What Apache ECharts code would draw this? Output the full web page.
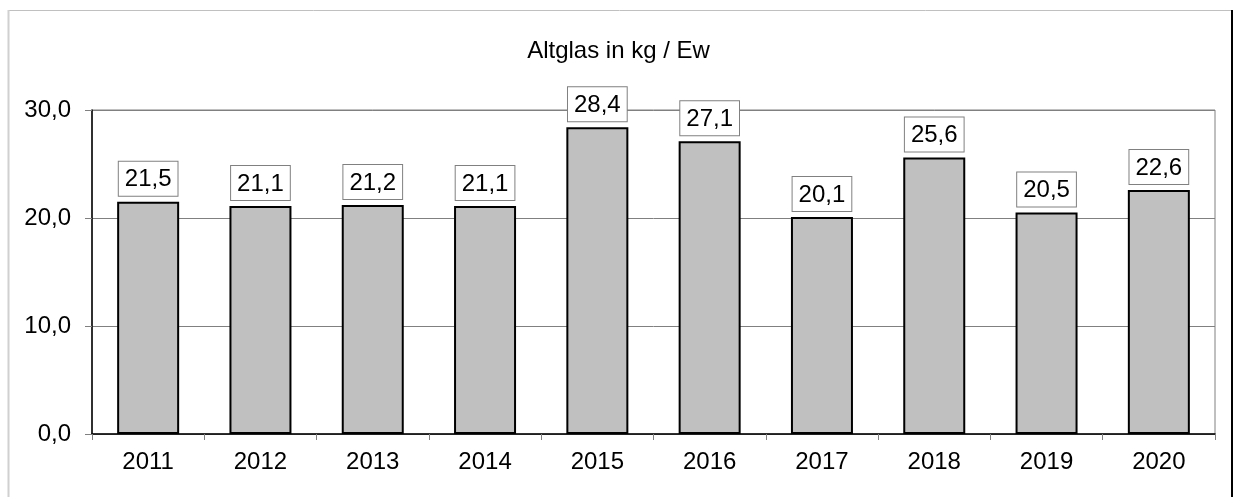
<!DOCTYPE html>
<html>
<head>
<meta charset="utf-8">
<script src="https://cdn.jsdelivr.net/npm/echarts@6/dist/echarts.min.js"></script>
<style>
  html, body { margin: 0; padding: 0; background: #fff; }
  #chart { width: 1237px; height: 497px; }
</style>
</head>
<body>
<div id="chart"></div>
<script>
var years = ['2011', '2012', '2013', '2014', '2015', '2016', '2017', '2018', '2019', '2020'];
var altglas = [21.5, 21.1, 21.2, 21.1, 28.4, 27.1, 20.1, 25.6, 20.5, 22.6];
var yTicks = { min: 0, max: 30, interval: 10 };

var chart = echarts.init(document.getElementById('chart'));
var font = 'Liberation Sans, Arial, sans-serif';

// deutsches Zahlenformat: Komma statt Punkt
function fmt(v) {
    return Number(v).toFixed(1).replace('.', ',');
}

var option = {
    animation: false,
    textStyle: { fontFamily: font },
    title: {
        text: 'Altglas in kg / Ew',
        left: 'center',
        top: 34,
        textStyle: { fontFamily: font, fontSize: 24, fontWeight: 'normal', color: '#000' }
    },
    // Rahmen um das ganze Diagramm
    graphic: [
        { type: 'line', shape: { x1: 8, y1: 10.5, x2: 1231, y2: 10.5 }, style: { stroke: '#c0c0c0', lineWidth: 1 } },
        { type: 'line', shape: { x1: 8.5, y1: 10, x2: 8.5, y2: 497 }, style: { stroke: '#d0d0d0', lineWidth: 2 } },
        { type: 'line', shape: { x1: 1232, y1: 10, x2: 1232, y2: 497 }, style: { stroke: '#000', lineWidth: 2 } }
    ],
    grid: {
        left: 92,
        right: 22,
        top: 110,
        bottom: 63,
        show: true,
        borderColor: '#808080',
        borderWidth: 1
    },
    xAxis: {
        type: 'category',
        data: years,
        axisLine: { lineStyle: { color: '#000', width: 1.5 } },
        axisTick: { show: true, length: 6, lineStyle: { color: '#808080' } },
        axisLabel: { fontFamily: font, fontSize: 24, color: '#000', margin: 16 }
    },
    yAxis: {
        type: 'value',
        min: yTicks.min,
        max: yTicks.max,
        interval: yTicks.interval,
        axisLine: { show: true, lineStyle: { color: '#000', width: 1.5 } },
        axisTick: { show: true, length: 7, lineStyle: { color: '#808080' } },
        axisLabel: { fontFamily: font, fontSize: 24, color: '#000', margin: 21, formatter: fmt },
        splitLine: { show: true, lineStyle: { color: '#808080', width: 1 } }
    },
    series: [{
        type: 'bar',
        data: altglas,
        barWidth: 62,
        itemStyle: { color: '#c0c0c0', borderColor: '#000', borderWidth: 2 },
        label: {
            show: true,
            position: 'top',
            distance: 6,
            formatter: function (p) { return fmt(p.value); },
            fontFamily: font,
            fontSize: 24,
            color: '#000',
            backgroundColor: '#fff',
            borderColor: '#808080',
            borderWidth: 1,
            padding: [6, 6, 4, 6]
        }
    }]
};

chart.setOption(option);
</script>
</body>
</html>
